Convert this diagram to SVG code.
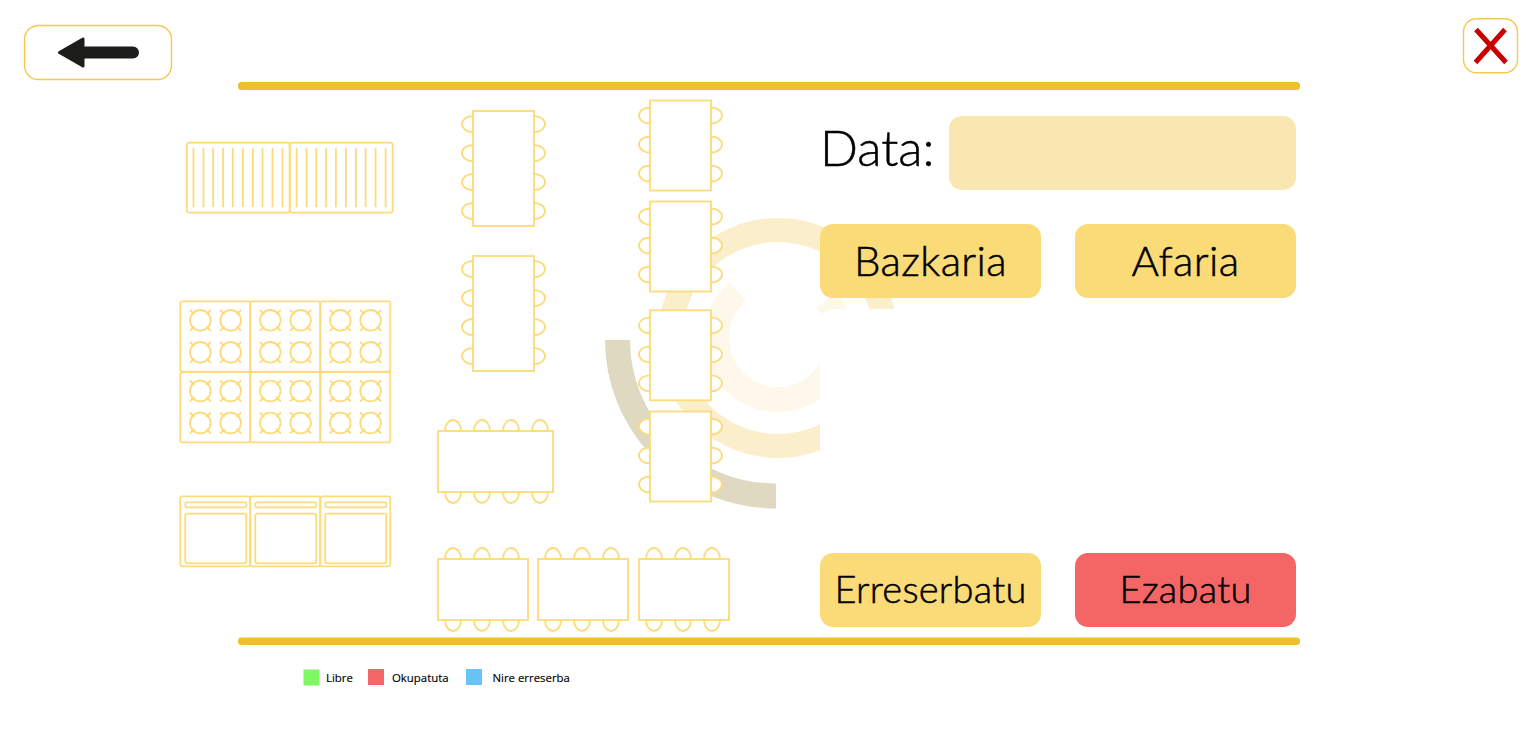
<svg xmlns="http://www.w3.org/2000/svg" width="1538" height="735" viewBox="0 0 1538 735">
<style>
.f{fill:#fff;stroke:#fcdb7a;stroke-width:1.800}
.n{fill:none;stroke:#fcdb7a;stroke-width:1.800}
.btn{fill:#fbda78}
.t{font-family:"Lato","Open Sans",sans-serif;font-weight:300;fill:#000;stroke:#000;stroke-width:.5px;font-size:42px;text-anchor:middle;letter-spacing:.4px}
.l{font-family:"Open Sans","Noto Sans",sans-serif;fill:#000;stroke:#000;stroke-width:.15px;font-size:11.4px}
.rail{fill:#eebf2e}
.box{fill:#fff;stroke:#f3c94f;stroke-width:1.400}
</style>
<defs>
<path id="sl" class="f" d="M0-8A11 8 0 0 0 0 8Z"/>
<path id="sr" class="f" d="M0-8A11 8 0 0 1 0 8Z"/>
<path id="st" class="f" d="M-8 0A8 11 0 0 1 8 0Z"/>
<path id="sb" class="f" d="M-8 0A8 11 0 0 0 8 0Z"/>
<g id="burner">
<circle class="n" r="10.300"/>
<path class="n" d="M-10.500-10.500L-6-6M10.500-10.500L6-6M-10.500 10.500L-6 6M10.500 10.500L6 6"/>
</g>
<g id="hob">
<rect class="n" width="70" height="70.400" rx="2"/>
<use href="#burner" x="20" y="19"/><use href="#burner" x="50.300" y="19"/>
<use href="#burner" x="20" y="51"/><use href="#burner" x="50.300" y="51"/>
</g>
<g id="oven">
<rect class="n" width="70" height="70" rx="2"/>
<rect class="n" x="5" y="6" width="61" height="5" rx="1.500"/>
<rect class="n" x="5" y="17.400" width="61" height="49.600" rx="2"/>
</g>
<g id="sink">
<rect class="n" width="102.800" height="70" rx="2.500"/>
<path class="n" d="M6.700 5.500V64.500M16.700 5.500V64.500M26.400 5.500V64.500M36.300 5.500V64.500M46 5.500V64.500M56 5.500V64.500M66 5.500V64.500M75.700 5.500V64.500M85.700 5.500V64.500M95.700 5.500V64.500"/>
</g>
<g id="seatsV4">
<use href="#sl" x="473" y="13"/><use href="#sl" x="473" y="42"/><use href="#sl" x="473" y="71"/><use href="#sl" x="473" y="100"/>
<use href="#sr" x="534" y="13"/><use href="#sr" x="534" y="42"/><use href="#sr" x="534" y="71"/><use href="#sr" x="534" y="100"/>
<rect class="f" x="473" width="61" height="115"/>
</g>
<g id="tableV3">
<use href="#sl" x="650" y="15"/><use href="#sl" x="650" y="44"/><use href="#sl" x="650" y="73"/>
<use href="#sr" x="711" y="15"/><use href="#sr" x="711" y="44"/><use href="#sr" x="711" y="73"/>
<rect class="f" x="650" width="61" height="90"/>
</g>
<g id="tableH3">
<use href="#st" x="15" y="0"/><use href="#st" x="44" y="0"/><use href="#st" x="73" y="0"/>
<use href="#sb" x="15" y="61"/><use href="#sb" x="44" y="61"/><use href="#sb" x="73" y="61"/>
<rect class="f" width="90" height="61"/>
</g>
</defs>

<rect width="1538" height="735" fill="#fff"/>

<g id="logo" fill="none">
<path stroke="#dfd9c2" stroke-width="25" d="M617.500 340A158.500 156 0 0 0 776 496"/>
<circle cx="778" cy="338" r="108" stroke="#fbeecb" stroke-width="24"/>
<path stroke="#fdf8ea" stroke-width="25" d="M737.700 291.600A61.500 61.500 0 1 0 826.500 300.200"/>
<rect x="820" y="309" width="400" height="250" rx="12" fill="#fff"/>
</g>

<g id="rail-top"><rect class="rail" x="238" y="82" width="1062" height="8" rx="3.500"/></g>
<g id="rail-bottom"><rect class="rail" x="238" y="637.500" width="1062" height="7.500" rx="3.500"/></g>

<g id="back-button">
<rect class="box" x="24.500" y="25.500" width="147" height="54" rx="14"/>
<path fill="#1d1d1b" stroke="#1d1d1b" stroke-width="3" stroke-linejoin="round" d="M59.500 52.500L83 39V48H133A4.500 4.500 0 0 1 133 57H83V66Z"/>
</g>

<g id="close-button">
<rect class="box" x="1463.500" y="18.700" width="54" height="54" rx="13"/>
<path fill="none" stroke="#c80000" stroke-width="5" d="M1476 29.500L1506 62.500M1505 29.500L1475.500 62.500"/>
</g>

<g id="sinks">
<use href="#sink" x="186.800" y="142.700"/>
<use href="#sink" x="289.900" y="142.700"/>
</g>
<g id="hobs">
<use href="#hob" x="180.300" y="301.300"/><use href="#hob" x="250.300" y="301.300"/><use href="#hob" x="320.300" y="301.300"/>
<use href="#hob" x="180.300" y="372"/><use href="#hob" x="250.300" y="372"/><use href="#hob" x="320.300" y="372"/>
</g>
<g id="ovens">
<use href="#oven" x="180.300" y="496.300"/><use href="#oven" x="250.300" y="496.300"/><use href="#oven" x="320.300" y="496.300"/>
</g>

<g id="table-1"><use href="#seatsV4" y="111"/></g>
<g id="table-2"><use href="#seatsV4" y="256"/></g>
<g id="table-3"><use href="#tableV3" y="100.500"/></g>
<g id="table-4"><use href="#tableV3" y="201.500"/></g>
<g id="table-5"><use href="#tableV3" y="310.300"/></g>
<g id="table-6"><use href="#tableV3" y="411.500"/></g>
<g id="table-7">
<use href="#st" x="453" y="431"/><use href="#st" x="482" y="431"/><use href="#st" x="511" y="431"/><use href="#st" x="540" y="431"/>
<use href="#sb" x="453" y="492"/><use href="#sb" x="482" y="492"/><use href="#sb" x="511" y="492"/><use href="#sb" x="540" y="492"/>
<rect class="f" x="438" y="431" width="115" height="61"/>
</g>
<g id="table-8"><use href="#tableH3" x="438" y="559"/></g>
<g id="table-9"><use href="#tableH3" x="538" y="559"/></g>
<g id="table-10"><use href="#tableH3" x="639" y="559"/></g>

<g id="date-field">
<text class="t" x="820" y="166" style="font-size:50px;text-anchor:start;letter-spacing:0">Data:</text>
<rect x="949" y="116" width="347" height="74" rx="13" fill="#fae6b0"/>
</g>
<g id="btn-bazkaria"><rect class="btn" x="820" y="224" width="221" height="74" rx="13"/><text class="t" x="930.500" y="276">Bazkaria</text></g>
<g id="btn-afaria"><rect class="btn" x="1075" y="224" width="221" height="74" rx="13"/><text class="t" x="1185.500" y="276">Afaria</text></g>
<g id="btn-erreserbatu"><rect class="btn" x="820" y="553" width="221" height="74" rx="13"/><text class="t" x="930.500" y="603" style="font-size:38px;letter-spacing:.25px">Erreserbatu</text></g>
<g id="btn-ezabatu"><rect x="1075" y="553" width="221" height="74" rx="13" fill="#f46666"/><text class="t" x="1185.500" y="603" style="font-size:38px;letter-spacing:.25px">Ezabatu</text></g>

<g id="legend">
<rect x="303.500" y="669.500" width="16" height="16" fill="#7ef863"/><text class="l" x="326" y="682">Libre</text>
<rect x="368" y="669" width="16" height="16" fill="#f46666"/><text class="l" x="392" y="682">Okupatuta</text>
<rect x="466" y="669" width="16" height="16" fill="#69c3f5"/><text class="l" x="492.500" y="682">Nire erreserba</text>
</g>
</svg>
